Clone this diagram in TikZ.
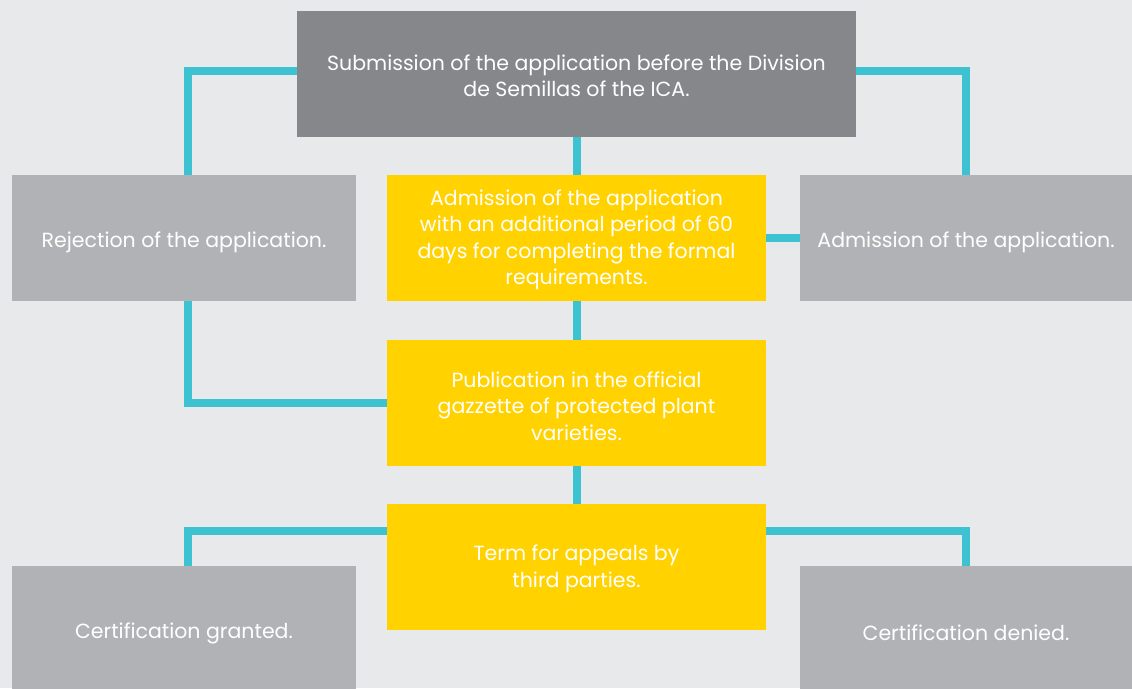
\documentclass[tikz,border=0pt]{standalone}
\usepackage{fontspec}
\setmainfont{Poppins}
\definecolor{bgc}{HTML}{E8E9EB}
\definecolor{darkg}{HTML}{86878B}
\definecolor{lightg}{HTML}{B1B2B5}
\definecolor{yel}{HTML}{FFD200}
\definecolor{cyanl}{HTML}{3CC2D0}
\begin{document}
\begin{tikzpicture}[x=1pt,y=-1pt,
  box/.style={rectangle, inner sep=0pt, minimum height=126pt},
  txt/.style={inner sep=0pt, text=white, align=center,
    font=\fontsize{20.5}{26.5}\selectfont},
  dbox/.style={box, fill=darkg, minimum width=559pt},
  gbox/.style={box, fill=lightg, minimum width=344pt},
  gboxr/.style={box, fill=lightg, minimum width=332pt},
  ybox/.style={box, fill=yel, minimum width=379pt},
  conn/.style={draw=cyanl, line width=8pt, line join=miter}]
\useasboundingbox (0,0) rectangle (1132,688);
\fill[bgc] (0,0) rectangle (1132,688);
\begin{scope}
\clip (0,0) rectangle (1132,688);
\node[dbox] (sub) at (576.5,74) {};
\node[gbox] (rej) at (184,238) {};
\node[ybox] (adm) at (576.5,238) {};
\node[gboxr] (admr) at (966,238) {};
\node[ybox] (pub) at (576.5,403) {};
\node[ybox] (term) at (576.5,567) {};
\node[gbox] (cg) at (184,629) {};
\node[gboxr] (cd) at (966,629) {};
\end{scope}
\node[txt] (subt) at ([yshift=-2pt]sub.center) {Submission of the application before the Division\\de Semillas of the ICA.};
\node[txt] (rejt) at ([yshift=-4pt]rej.center) {Rejection of the application.};
\node[txt] (admt) at ([yshift=-2pt]adm.center) {Admission of the application\\with an additional period of 60\\days for completing the formal\\requirements.};
\node[txt] (admrt) at ([yshift=-4pt]admr.center) {Admission of the application.};
\node[txt] (pubt) at ([yshift=-3pt]pub.center) {Publication in the official\\gazzette of protected plant\\varieties.};
\node[txt] (termt) at ([yshift=-2pt]term.center) {Term for appeals by\\third parties.};
\node[txt] (cgt) at ([yshift=-4pt]cg.center) {Certification granted.};
\node[txt] (cdt) at ([yshift=-4pt]cd.center) {Certification denied.};
\coordinate (lx) at (188,0);
\coordinate (rx) at (966,0);
\draw[conn] ([yshift=3pt]sub.west) -| (lx |- rej.north);
\draw[conn] ([yshift=3pt]sub.east) -| (rx |- admr.north);
\draw[conn] (sub.south) -- (adm.north);
\draw[conn] (adm.east) -- (admr.west |- adm.east);
\draw[conn] (adm.south) -- (pub.north);
\draw[conn] (lx |- rej.south) |- (pub.west);
\draw[conn] (pub.south) -- (term.north);
\draw[conn] ([yshift=36pt]term.west) -| (lx |- cg.north);
\draw[conn] ([yshift=36pt]term.east) -| (rx |- cd.north);
\end{tikzpicture}
\end{document}
